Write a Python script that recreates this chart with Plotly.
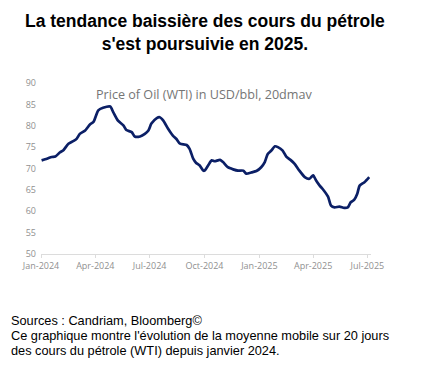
import plotly.graph_objects as go

dates = [
    "2024-01-02", "2024-01-11", "2024-01-19", "2024-01-25", "2024-02-02", "2024-02-07",
    "2024-02-16", "2024-02-24", "2024-03-01", "2024-03-06", "2024-03-15", "2024-03-23",
    "2024-03-29", "2024-04-06", "2024-04-14", "2024-04-26", "2024-05-01", "2024-05-09",
    "2024-05-18", "2024-05-23", "2024-06-01", "2024-06-06", "2024-06-15", "2024-06-23",
    "2024-06-29", "2024-07-04", "2024-07-13", "2024-07-18", "2024-07-24", "2024-08-01",
    "2024-08-09", "2024-08-15", "2024-08-21", "2024-09-01", "2024-09-06", "2024-09-12",
    "2024-09-17", "2024-09-23", "2024-09-29", "2024-10-01", "2024-10-07", "2024-10-13",
    "2024-10-18", "2024-10-27", "2024-11-01", "2024-11-09", "2024-11-18", "2024-11-26",
    "2024-12-05", "2024-12-10", "2024-12-19", "2024-12-27", "2025-01-04", "2025-01-10",
    "2025-01-15", "2025-01-21", "2025-01-27", "2025-02-01", "2025-02-09", "2025-02-15",
    "2025-02-23", "2025-03-01", "2025-03-09", "2025-03-18", "2025-03-26", "2025-04-01",
    "2025-04-06", "2025-04-12", "2025-04-17", "2025-04-26", "2025-05-01", "2025-05-07",
    "2025-05-15", "2025-05-23", "2025-05-29", "2025-06-03", "2025-06-09", "2025-06-14",
    "2025-06-18", "2025-06-26", "2025-07-04",
]
oil_wti_20dmav = [
    71.9, 72.3, 72.7, 72.8, 73.8, 74.2,
    75.8, 76.4, 77.0, 78.1, 78.9, 80.3,
    80.9, 83.6, 84.2, 84.5, 83.2, 81.2,
    80.1, 79.0, 78.5, 77.5, 77.5, 78.1,
    78.9, 80.5, 81.8, 82.0, 81.2, 79.3,
    77.7, 76.9, 75.8, 75.5, 74.6, 72.3,
    71.3, 70.7, 69.5, 69.5, 70.7, 71.9,
    71.7, 72.0, 71.5, 70.3, 69.8, 69.5,
    69.5, 68.8, 69.1, 69.4, 70.3, 71.5,
    73.4, 74.2, 75.2, 75.0, 74.2, 72.8,
    71.9, 71.1, 69.5, 68.0, 67.6, 68.4,
    67.2, 66.0, 65.2, 63.4, 61.3, 60.9,
    61.1, 60.8, 60.9, 62.1, 62.7, 64.1,
    66.0, 66.8, 68.0,
]
tick_dates = ["2024-01-01", "2024-04-01", "2024-07-01", "2024-10-01",
              "2025-01-01", "2025-04-01", "2025-07-01"]
tick_labels = ["Jan-2024", "Apr-2024", "Jul-2024", "Oct-2024",
               "Jan-2025", "Apr-2025", "Jul-2025"]
y_ticks = [50, 55, 60, 65, 70, 75, 80, 85, 90]

title_text = "<b>La tendance baissière des cours du pétrole<br>s'est poursuivie en 2025.</b>"
chart_title = "Price of Oil (WTI) in USD/bbl, 20dmav"
footer_lines = [
    "Sources : Candriam, Bloomberg©",
    "Ce graphique montre l'évolution de la moyenne mobile sur 20 jours",
    "des cours du pétrole (WTI) depuis janvier 2024.",
]

# page body has an 8px margin, so figure coords = reference coords - 8
OFF = 8
W, H = 422 - OFF, 371 - OFF
L, R, T, B = 41 - OFF, 51, 83 - OFF, 117
PW, PH = W - L - R, H - T - B


def px(x):
    return (x - OFF - L) / PW


def py(y):
    return (H - B - (y - OFF)) / PH


fig = go.Figure()
fig.add_trace(go.Scatter(
    x=dates, y=oil_wti_20dmav, mode="lines",
    line=dict(color="#0b1f66", width=2.7, shape="spline", smoothing=0.6),
    hoverinfo="skip", showlegend=False,
))

tick_font = dict(family="Open Sans, Lato, sans-serif", size=9, color="#909090")
annotations = [
    dict(text=title_text, x=px(205), y=py(32.5), xanchor="center", yanchor="middle",
         font=dict(family="Liberation Sans, Arial, sans-serif", size=17.5, color="black")),
    dict(text=chart_title, x=px(204), y=py(94), xanchor="center", yanchor="middle",
         font=dict(family="Open Sans, Lato, sans-serif", size=12.6, color="#757575")),
]
for i, line in enumerate(footer_lines):
    annotations.append(dict(
        text=line, x=px(9), y=py(320 + 15 * i), xanchor="left", yanchor="middle",
        align="left",
        font=dict(family="Liberation Sans, Arial, sans-serif", size=12.75, color="black")))
for a in annotations:
    a.update(xref="paper", yref="paper", showarrow=False)

fig.update_layout(
    width=W, height=H,
    margin=dict(l=L, r=R, t=T, b=B),
    paper_bgcolor="white", plot_bgcolor="white",
    xaxis=dict(
        range=["2024-01-01", "2025-07-07"],
        tickvals=tick_dates, ticktext=tick_labels,
        showgrid=False, zeroline=False,
        showline=True, linecolor="#dcdcdc", linewidth=1,
        ticks="outside", ticklen=3, tickcolor="#dcdcdc",
        tickfont=tick_font,
    ),
    yaxis=dict(
        range=[50, 90], tickvals=y_ticks,
        showgrid=False, zeroline=False, showline=False,
        ticks="", tickfont=tick_font, ticklabelstandoff=4,
    ),
    annotations=annotations,
)

fig.write_html("out.html")
